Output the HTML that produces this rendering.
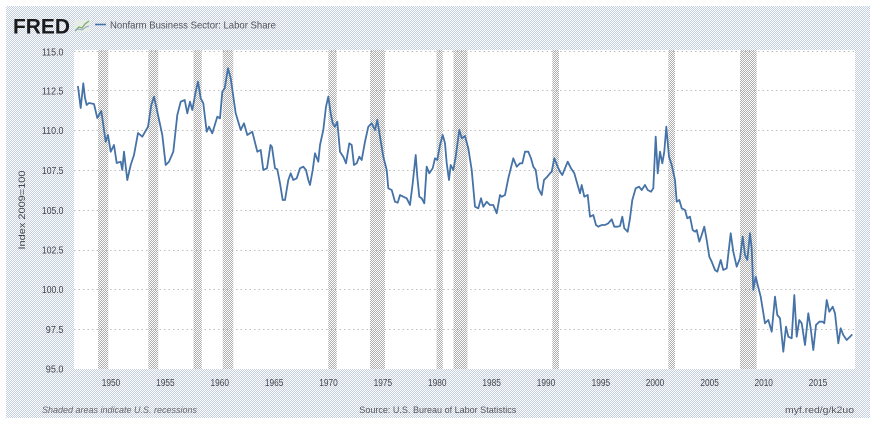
<!DOCTYPE html>
<html><head><meta charset="utf-8"><style>
html,body{margin:0;padding:0;background:#fff;}
svg{display:block;}
text{font-family:"Liberation Sans",sans-serif;}
</style></head><body>
<svg width="879" height="429" viewBox="0 0 879 429" xmlns="http://www.w3.org/2000/svg">
<defs>
<pattern id="bg" x="0" y="0" width="2" height="2" patternUnits="userSpaceOnUse">
<rect width="2" height="2" fill="#ffffff"/>
<rect x="1" y="0" width="1" height="1" fill="#c3cee2"/>
<rect x="0" y="1" width="1" height="1" fill="#c3cee2"/>
</pattern>
<pattern id="rec" x="0" y="0" width="2" height="2" patternUnits="userSpaceOnUse">
<rect width="2" height="2" fill="#ffffff"/>
<rect x="1" y="0" width="1" height="1" fill="#adadad"/>
<rect x="0" y="1" width="1" height="1" fill="#adadad"/>
</pattern>
</defs>
<rect x="0" y="0" width="879" height="429" fill="#fff"/>
<rect x="6" y="6" width="864" height="412" fill="url(#bg)"/>
<!-- plot area -->
<rect x="74" y="50" width="781" height="319" fill="#fff"/>
<!-- recession bars -->
<g fill="url(#rec)">
<rect x="98" y="50" width="10.3" height="319"/>
<rect x="148.3" y="50" width="10" height="319"/>
<rect x="193.5" y="50" width="8.2" height="319"/>
<rect x="222.7" y="50" width="10.6" height="319"/>
<rect x="328.3" y="50" width="8.4" height="319"/>
<rect x="370" y="50" width="15" height="319"/>
<rect x="436.5" y="50" width="6.3" height="319"/>
<rect x="453.5" y="50" width="14" height="319"/>
<rect x="552.3" y="50" width="6.7" height="319"/>
<rect x="668.3" y="50" width="6.7" height="319"/>
<rect x="740" y="50" width="16.7" height="319"/>
</g>
<!-- grid -->
<g stroke="#bfbfbf" stroke-width="1" stroke-dasharray="1.5,3" shape-rendering="crispEdges">
<line x1="74" x2="855" y1="51.5" y2="51.5"/>
<line x1="74" x2="855" y1="90.5" y2="90.5"/>
<line x1="74" x2="855" y1="130.5" y2="130.5"/>
<line x1="74" x2="855" y1="170.5" y2="170.5"/>
<line x1="74" x2="855" y1="210.5" y2="210.5"/>
<line x1="74" x2="855" y1="250.5" y2="250.5"/>
<line x1="74" x2="855" y1="289.5" y2="289.5"/>
<line x1="74" x2="855" y1="329.5" y2="329.5"/>
</g>
<!-- y labels -->
<g font-size="10" fill="#444" text-anchor="end" lengthAdjust="spacingAndGlyphs">
<text x="63.5" y="55.5" textLength="21.6" lengthAdjust="spacingAndGlyphs">115.0</text>
<text x="63.5" y="94.5" textLength="21.6" lengthAdjust="spacingAndGlyphs">112.5</text>
<text x="63.5" y="134" textLength="21.6" lengthAdjust="spacingAndGlyphs">110.0</text>
<text x="63.5" y="174" textLength="21.6" lengthAdjust="spacingAndGlyphs">107.5</text>
<text x="63.5" y="214" textLength="21.6" lengthAdjust="spacingAndGlyphs">105.0</text>
<text x="63.5" y="253.5" textLength="21.6" lengthAdjust="spacingAndGlyphs">102.5</text>
<text x="63.5" y="293" textLength="21.6" lengthAdjust="spacingAndGlyphs">100.0</text>
<text x="63.5" y="333" textLength="17.7" lengthAdjust="spacingAndGlyphs">97.5</text>
<text x="63.5" y="372.5" textLength="17.7" lengthAdjust="spacingAndGlyphs">95.0</text>
</g>
<text x="25" y="210" font-size="9" fill="#444" text-anchor="middle" transform="rotate(-90 25 210)" textLength="79" lengthAdjust="spacingAndGlyphs">Index 2009=100</text>
<!-- x labels -->
<g font-size="10" fill="#444" text-anchor="middle">
<text x="111" y="386" textLength="18.5" lengthAdjust="spacingAndGlyphs">1950</text>
<text x="165.4" y="386" textLength="18.5" lengthAdjust="spacingAndGlyphs">1955</text>
<text x="219.8" y="386" textLength="18.5" lengthAdjust="spacingAndGlyphs">1960</text>
<text x="274.1" y="386" textLength="18.5" lengthAdjust="spacingAndGlyphs">1965</text>
<text x="328.5" y="386" textLength="18.5" lengthAdjust="spacingAndGlyphs">1970</text>
<text x="382.9" y="386" textLength="18.5" lengthAdjust="spacingAndGlyphs">1975</text>
<text x="437.3" y="386" textLength="18.5" lengthAdjust="spacingAndGlyphs">1980</text>
<text x="491.6" y="386" textLength="18.5" lengthAdjust="spacingAndGlyphs">1985</text>
<text x="546" y="386" textLength="18.5" lengthAdjust="spacingAndGlyphs">1990</text>
<text x="600.9" y="386" textLength="18.5" lengthAdjust="spacingAndGlyphs">1995</text>
<text x="655" y="386" textLength="18.5" lengthAdjust="spacingAndGlyphs">2000</text>
<text x="709.6" y="386" textLength="18.5" lengthAdjust="spacingAndGlyphs">2005</text>
<text x="763.7" y="386" textLength="18.5" lengthAdjust="spacingAndGlyphs">2010</text>
<text x="818" y="386" textLength="18.5" lengthAdjust="spacingAndGlyphs">2015</text>
</g>
<!-- series -->
<polyline fill="none" stroke="#4572a7" stroke-width="1.8" stroke-linejoin="round" stroke-linecap="round" points="
78,86.7 80.7,108 83.3,83.3 85,98 86.7,105 89,103 94,104 97.3,118 101.3,111 105.7,141.7 108,135 110.7,151.7 114,145 116.7,163 120.7,161.7 122.3,170 124,151.7 127.3,180 130.7,165 134,155 138,133 142.3,136.7 148,126.7 151.3,105 154,96.7 157.3,111.7 162.3,135 165.7,165 169,161.7 173.3,151.7 177.3,115 180.7,101.7 184.7,100 187.3,113.3 190,101.7 192.3,110 195.7,91.7 198,81.7 200.7,98.3 203.3,103.3 206.7,131.7 209,126.7 212.3,133.3 217.3,116.7 220,118.3 222.3,91.7 224.7,88.3 228,68.3 230.7,78.3 235.7,113.3 240.7,130 244,123.3 247.3,135 252.3,131.7 257.3,151.7 260.7,150 263.3,170 267,168.3 270.5,145 272,147 275,168.3 277.3,169.3
280,183.3 282.7,200 285,200 288.3,180 290.7,173.3 293.3,180 296.7,178.3 300,168.3 303.3,166.7 306,170 308.3,180 310,185 312.7,170 315,153.3 318.3,161.7 320,145 323.3,130 326,106.7 328.3,96.7 330.7,113.3 332.7,123.3 335,126.7 337.3,121.7 340,151.7 343.3,156.7 346,163.3 349.3,143.3 351.7,145 354,165 356.7,163.3 359.3,156.7 361.7,160 365,141.7 368.3,126.7 371.7,123.3 375,130 377.3,120 380,136.7 383.3,156.7 386.7,170 388.3,188.3 391.7,190 395,201.7 397.7,202.7 400,195 403.3,196.7 406.7,198.3 410,205 412.7,183.3 415.7,155 417.3,176.7 419.3,196.7 421.7,198.3 424.3,203.3 426.7,166.7 429.3,173.3 432.7,168.3 435,158.3 437.3,160 440,145 442.7,135 445,143.3 446.7,163.3 449,180 450.7,165 453.3,170 455.7,156.7 459.3,130 461.7,138.3 465,136
468.3,148.3 471.7,170 475,206.7 478.3,208.3 481,198.3 483.3,206.7 486.7,201.7 490,205 493.3,205 496.7,213.3 500,195 501.7,196.7 505,195 508.3,178.3 513.3,158.3 516.7,166.7 520,163.3 522.3,163.3 525,151.7 528.3,151.7 531,158.3 533.3,166.7 535.7,170 538.3,188.3 541.7,195 544,180 547.3,176.7 550,173.3 551.7,171.7 554.3,158.3 557.7,166.7 560,171.7 562.3,175 565,168.3 567.7,161.7 571,168.3 574.3,173.3 576.7,181.7 580,193.3 581.7,185 584.3,196.7 587.7,195 590,216.7 593.3,215 596,225 598.3,226.7 601.7,225 605,225 608.3,223.3 611.7,219.3 614.3,226.7 617.7,226.7 620,226 622.3,216.7 624.3,228.3 627.7,231.7 630,218.3 632.3,200 635.7,188.3 639,186.7 641.7,190 645,185 647.7,190 651,191.7 653.3,188.3 655.7,136.7 657.7,173.3 660,151.7 662.3,163.3 664.3,151.7 666.3,126.7 669,156.7
671.7,165 675,180 676.7,201.7 679.3,200 681.7,208.3 685,210 687.3,218.3 690,216.7 692.7,230 695,231.7 696.7,230 699.3,241.7 701.7,235 704.3,226.7 706.7,240 709.3,256.7 711.7,261.7 715,270 717.3,271.7 720.7,260 723.3,270 726.7,268.3 730.7,233.3 733.3,251.7 736.7,266.7 740,258.3 742.7,236.7 745,255 747.3,260 750,233.3 751.7,248.3 753.3,290 755.7,276.7 757.7,285 760.7,296.7 765,323.3 768.3,320 771.7,331.7 775,296.7 777.3,315 780,318.3 783.3,351.7 786,326.7 788.3,336.7 791.7,338.3 794.3,295 796.7,336.7 799.3,320 801.7,323.3 805,345 808.3,313.3 810.7,328.3 813.3,350 816,325 819.3,321.7 822.7,321.7 824.3,323.3 826.7,300 829.3,311.7 832.7,306.7 835,313.3 838.3,343.3 840.7,328.3 843.3,335 846.7,340 850,336.7 851.7,335"/>
<!-- header -->
<text x="13" y="33.3" font-size="21" font-weight="bold" fill="#1a1a1a" textLength="57" lengthAdjust="spacingAndGlyphs">FRED</text>
<g>
<rect x="74" y="20" width="16" height="12" fill="#e6ece6"/>
<polyline points="75,31 79,27 82,28 85,24 89,21" fill="none" stroke="#7fae6a" stroke-width="1.3"/>
<polyline points="75,31 78,29 82,30 86,27 89,26" fill="none" stroke="#8fa6c8" stroke-width="1"/>
</g>
<line x1="95" y1="24.5" x2="106" y2="24.5" stroke="#4572a7" stroke-width="1.6"/>
<text x="110" y="28.5" font-size="10.5" fill="#555" textLength="166" lengthAdjust="spacingAndGlyphs">Nonfarm Business Sector: Labor Share</text>
<!-- footer -->
<text x="42" y="413" font-size="9" font-style="italic" fill="#666" textLength="155" lengthAdjust="spacingAndGlyphs">Shaded areas indicate U.S. recessions</text>
<text x="359.3" y="413" font-size="9.5" fill="#555" textLength="157" lengthAdjust="spacingAndGlyphs">Source: U.S. Bureau of Labor Statistics</text>
<text x="785" y="413" font-size="9.5" fill="#555" textLength="69" lengthAdjust="spacingAndGlyphs">myf.red/g/k2uo</text>
</svg>
</body></html>
